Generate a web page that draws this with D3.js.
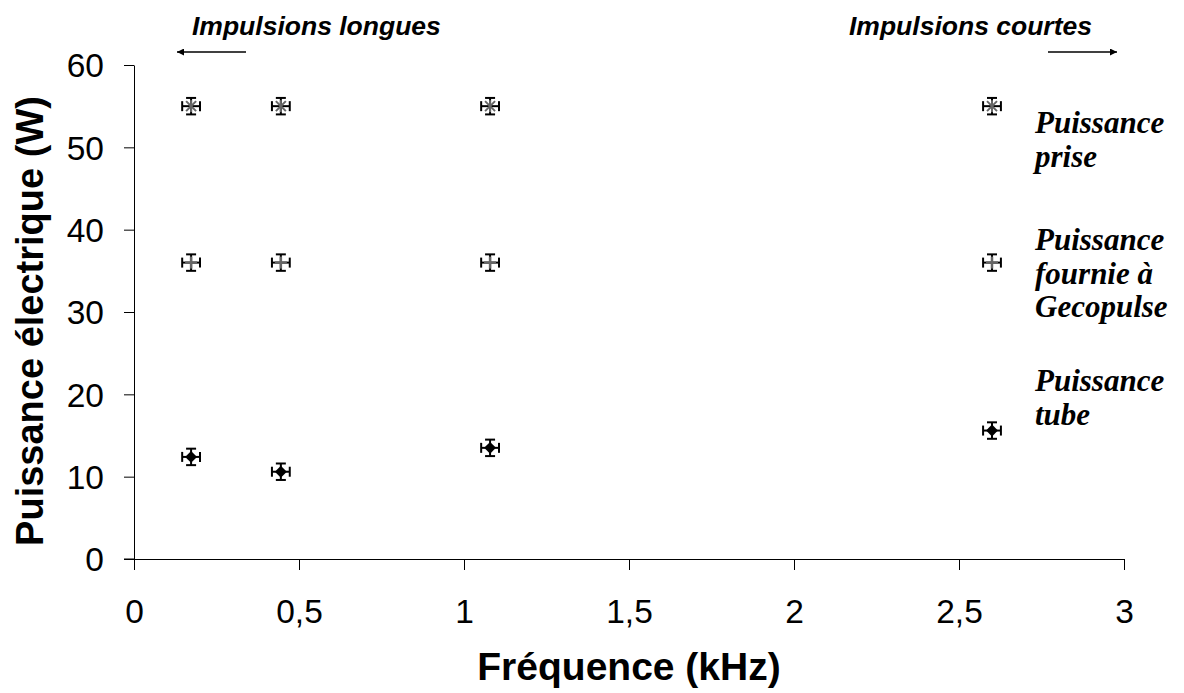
<!DOCTYPE html>
<html><head><meta charset="utf-8">
<script src="https://cdn.jsdelivr.net/npm/d3@7"></script>
<style>body{margin:0;background:#fff}</style>
</head><body>
<svg id="c" width="1184" height="693"></svg>
<script>
const freq = [0.173, 0.445, 1.079, 2.60];
const prise = [55, 55, 55, 55];
const fournie = [36, 36, 36, 36];
const tube = [12.4, 10.6, 13.5, 15.6];
const xErr = 0.027;
const yErr = 1.0;
const xTicks = [0, 0.5, 1, 1.5, 2, 2.5, 3];
const yTicks = [0, 10, 20, 30, 40, 50, 60];

const svg = d3.select("#c");
const x = d3.scaleLinear().domain([0, 3]).range([134, 1124]);
const y = d3.scaleLinear().domain([0, 60]).range([559, 65]);
const fmt = d => String(d).replace(".", ",");

const xa = svg.append("g").attr("transform", "translate(0,559)")
  .call(d3.axisBottom(x).tickValues(xTicks).tickFormat(fmt).tickSize(11).tickSizeOuter(0));
const ya = svg.append("g").attr("transform", "translate(134,0)")
  .call(d3.axisLeft(y).tickValues(yTicks).tickFormat(fmt).tickSize(10).tickSizeOuter(0));
[xa, ya].forEach(a => {
  a.select(".domain").attr("stroke", "#000").attr("stroke-width", 1);
  a.selectAll(".tick line").attr("stroke", "#000");
  a.selectAll("text").attr("font-family", "Liberation Sans, Arial, sans-serif").attr("font-size", 33.5).attr("fill", "#000");
});
xa.selectAll("text").attr("dy", null).attr("y", 64);
ya.selectAll("text").attr("x", -30).attr("dy", "0.35em");
svg.append("line").attr("x1", 124).attr("x2", 134).attr("y1", 559).attr("y2", 559).attr("stroke", "#000");

svg.append("text").attr("x", 629).attr("y", 680).attr("text-anchor", "middle")
  .attr("font-family", "Liberation Sans, Arial, sans-serif").attr("font-weight", "bold").attr("font-size", 39)
  .text("Fréquence (kHz)");
svg.append("text").attr("transform", "translate(43,321) rotate(-90)").attr("text-anchor", "middle")
  .attr("font-family", "Liberation Sans, Arial, sans-serif").attr("font-weight", "bold").attr("font-size", 38)
  .text("Puissance électrique (W)");

function errorBars(vals) {
  const g = svg.append("g").attr("stroke", "#000").attr("stroke-width", 2);
  freq.forEach((f, i) => {
    const cx = x(f), cy = y(vals[i]);
    const x0 = x(f - xErr), x1 = x(f + xErr), y0 = y(vals[i] - yErr), y1 = y(vals[i] + yErr);
    g.append("line").attr("x1", x0).attr("x2", x1).attr("y1", cy).attr("y2", cy);
    g.append("line").attr("x1", cx).attr("x2", cx).attr("y1", y0).attr("y2", y1);
    g.append("line").attr("x1", x0).attr("x2", x0).attr("y1", cy - 5).attr("y2", cy + 5);
    g.append("line").attr("x1", x1).attr("x2", x1).attr("y1", cy - 5).attr("y2", cy + 5);
    g.append("line").attr("x1", cx - 5).attr("x2", cx + 5).attr("y1", y0).attr("y2", y0);
    g.append("line").attr("x1", cx - 5).attr("x2", cx + 5).attr("y1", y1).attr("y2", y1);
  });
}
errorBars(prise); errorBars(fournie); errorBars(tube);

const gp = svg.append("g").attr("stroke", "#666").attr("stroke-width", 2);
freq.forEach((f, i) => {
  const cx = x(f), cy = y(prise[i]);
  gp.append("line").attr("x1", cx - 5).attr("x2", cx + 5).attr("y1", cy - 5).attr("y2", cy + 5);
  gp.append("line").attr("x1", cx - 5).attr("x2", cx + 5).attr("y1", cy + 5).attr("y2", cy - 5);
  gp.append("line").attr("x1", cx).attr("x2", cx).attr("y1", cy - 6).attr("y2", cy + 6);
});
const gf = svg.append("g").attr("stroke", "#666").attr("stroke-width", 2.5);
freq.forEach((f, i) => {
  const cx = x(f), cy = y(fournie[i]);
  gf.append("line").attr("x1", cx - 6).attr("x2", cx + 6).attr("y1", cy).attr("y2", cy);
  gf.append("line").attr("x1", cx).attr("x2", cx).attr("y1", cy - 6).attr("y2", cy + 6);
});
svg.append("g").selectAll("path").data(freq).join("path")
  .attr("transform", (f, i) => `translate(${x(f)},${y(tube[i])})`)
  .attr("d", d3.symbol(d3.symbolDiamond2, 90)())
  .attr("fill", "#000");

const lab = svg.append("g").attr("font-family", "Liberation Serif, Times New Roman, serif")
  .attr("font-weight", "bold").attr("font-style", "italic").attr("font-size", 31).attr("fill", "#000");
const labels = [
  {lines: ["Puissance", "prise"], y0: 133},
  {lines: ["Puissance", "fournie à", "Gecopulse"], y0: 250},
  {lines: ["Puissance", "tube"], y0: 391}
];
labels.forEach(l => l.lines.forEach((t, j) => lab.append("text").attr("x", 1035).attr("y", l.y0 + j * 33.5).text(t)));

const annot = svg.append("g").attr("font-family", "Liberation Sans, Arial, sans-serif")
  .attr("font-weight", "bold").attr("font-style", "italic").attr("font-size", 26.5).attr("fill", "#000");
annot.append("text").attr("x", 192).attr("y", 35).text("Impulsions longues");
annot.append("text").attr("x", 849).attr("y", 35).text("Impulsions courtes");
svg.append("defs").append("marker").attr("id", "ah").attr("viewBox", "0 0 10 10").attr("refX", 10).attr("refY", 5)
  .attr("markerWidth", 9).attr("markerHeight", 7).attr("markerUnits", "userSpaceOnUse").attr("orient", "auto")
  .append("path").attr("d", "M0,0L10,5L0,10Z").attr("fill", "#000");
svg.append("line").attr("x1", 246).attr("x2", 177).attr("y1", 52).attr("y2", 52).attr("stroke", "#000").attr("stroke-width", 1.5).attr("marker-end", "url(#ah)");
svg.append("line").attr("x1", 1048).attr("x2", 1117).attr("y1", 52).attr("y2", 52).attr("stroke", "#000").attr("stroke-width", 1.5).attr("marker-end", "url(#ah)");
</script>
</body></html>
